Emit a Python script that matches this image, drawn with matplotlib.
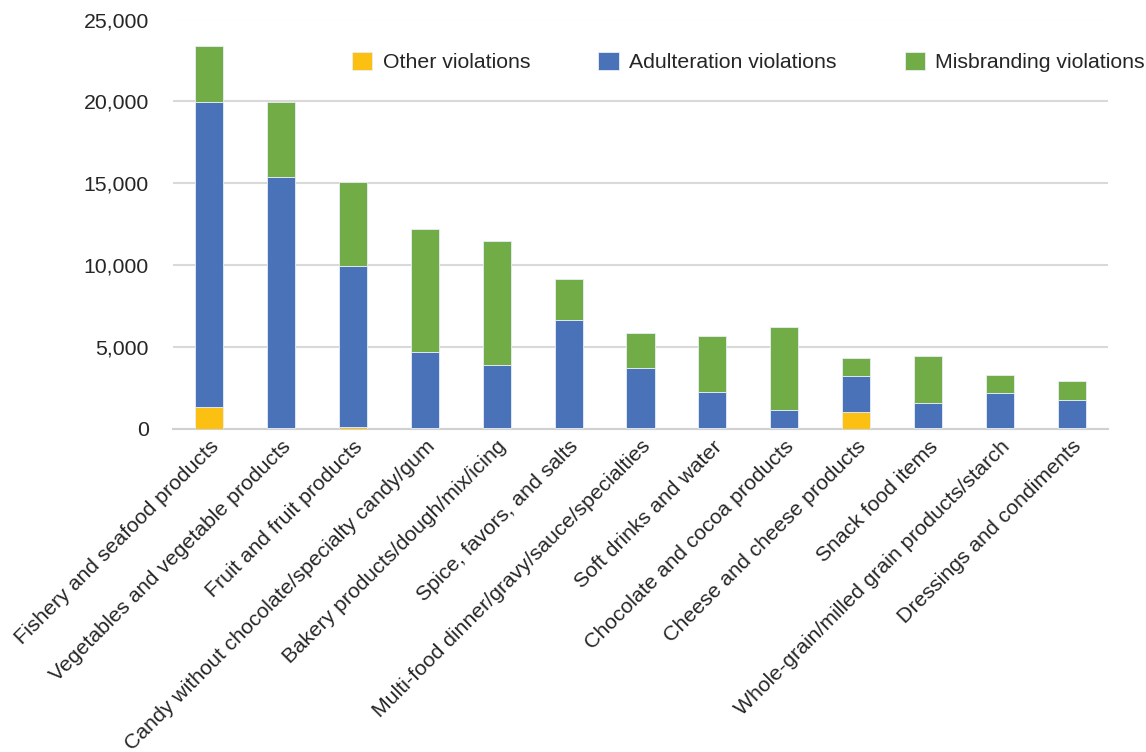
import matplotlib
matplotlib.use("Agg")
import matplotlib.pyplot as plt
import numpy as np
from matplotlib.ticker import FuncFormatter

categories = [
    "Fishery and seafood products",
    "Vegetables and vegetable products",
    "Fruit and fruit products",
    "Candy without chocolate/specialty candy/gum",
    "Bakery products/dough/mix/icing",
    "Spice, favors, and salts",
    "Multi-food dinner/gravy/sauce/specialties",
    "Soft drinks and water",
    "Chocolate and cocoa products",
    "Cheese and cheese products",
    "Snack food items",
    "Whole-grain/milled grain products/starch",
    "Dressings and condiments",
]
other = [1310, 20, 100, 60, 60, 20, 20, 20, 40, 990, 20, 20, 20]
adulteration = [18620, 15380, 9840, 4590, 3800, 6620, 3650, 2230, 1090, 2200, 1540, 2150, 1740]
misbranding = [3440, 4550, 5150, 7570, 7630, 2490, 2140, 3420, 5090, 1130, 2870, 1080, 1160]
yticks = [0, 5000, 10000, 15000, 20000, 25000]

plt.rcParams['font.family'] = ['Liberation Sans', 'DejaVu Sans']
fig = plt.figure(figsize=(11.46, 7.52), dpi=100)
ax = fig.add_axes([173.3/1146, 1 - 428.5/752, (1107.7-173.3)/1146, (428.5-19.5)/752])

x = np.arange(len(categories))
other_a = np.array(other)
adul_a = np.array(adulteration)
mis_a = np.array(misbranding)
w = 0.39
ec = '#e8eef7'
b1 = ax.bar(x, other_a, w, color='#FCC012', edgecolor=ec, linewidth=0.6, label='Other violations', zorder=3)
b2 = ax.bar(x, adul_a, w, bottom=other_a, color='#4A72B8', edgecolor=ec, linewidth=0.6, label='Adulteration violations', zorder=3)
b3 = ax.bar(x, mis_a, w, bottom=other_a + adul_a, color='#72AC46', edgecolor=ec, linewidth=0.6, label='Misbranding violations', zorder=3)

ax.set_xlim(-0.5, len(categories) - 0.5)
ax.set_ylim(0, 25000)
ax.set_yticks(yticks)
ax.yaxis.set_major_formatter(FuncFormatter(lambda v, p: f"{int(v):,}"))
ax.grid(axis='y', color='#d9d9d9', linewidth=1.5, zorder=0)
ax.set_axisbelow(True)
for s in ['top', 'right', 'left']:
    ax.spines[s].set_visible(False)
ax.spines['bottom'].set_color('#d0d0d0')
ax.spines['bottom'].set_linewidth(1.5)
ax.tick_params(axis='y', length=0, pad=17.5, labelsize=15.3, labelcolor='#262626')
ax.tick_params(axis='x', length=0, pad=6, labelsize=15.3, labelcolor='#262626')
ax.set_xticks(x)
ax.set_xticklabels(categories, rotation=45, ha='right', va='top', rotation_mode='anchor')

leg = fig.legend(handles=[b1, b2, b3], loc='center left', bbox_to_anchor=(352/1146, 1 - 62/752),
                 bbox_transform=fig.transFigure, ncol=3, frameon=False, fontsize=15.3,
                 borderaxespad=0, borderpad=0, handlelength=0.95, handleheight=0.95,
                 handletextpad=0.5, columnspacing=3.2)
for t in leg.get_texts():
    t.set_color('#262626')

fig.savefig('out.png', dpi=100)
